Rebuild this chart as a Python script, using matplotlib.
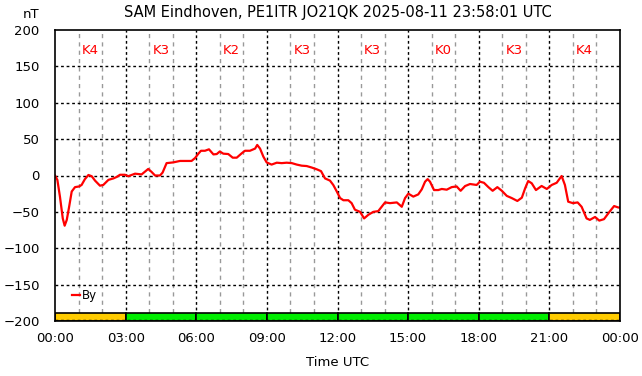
import numpy as np
import matplotlib
matplotlib.use('Agg')
import matplotlib.pyplot as plt
from matplotlib.ticker import FuncFormatter, MultipleLocator

# By trace, hours since 00:00 UTC and nT
hours = [0.0, 0.1, 0.21, 0.33, 0.41, 0.5, 0.6, 0.71, 0.85, 1.03, 1.13, 1.27, 1.42, 1.56, 1.7,
         1.91, 2.05, 2.27, 2.48, 2.62, 2.76, 2.97, 3.11, 3.4, 3.68, 3.96, 4.1, 4.25, 4.46,
         4.57, 4.74, 5.02, 5.31, 5.59, 5.8, 5.95, 6.09, 6.2, 6.37, 6.54, 6.73, 6.87, 7.0,
         7.15, 7.36, 7.55, 7.72, 7.93, 8.07, 8.28, 8.5, 8.59, 8.71, 8.85, 8.99, 9.2, 9.42,
         9.63, 9.84, 10.06, 10.27, 10.48, 10.69, 10.9, 11.12, 11.3, 11.47, 11.68, 11.82,
         11.97, 12.11, 12.25, 12.46, 12.6, 12.74, 12.96, 13.13, 13.31, 13.52, 13.73, 14.02,
         14.23, 14.52, 14.73, 14.87, 15.01, 15.22, 15.43, 15.58, 15.72, 15.83, 15.93, 16.1,
         16.28, 16.43, 16.64, 16.85, 17.06, 17.23, 17.42, 17.63, 17.91, 18.05, 18.22, 18.41,
         18.59, 18.79, 18.98, 19.19, 19.4, 19.64, 19.83, 19.97, 20.1, 20.25, 20.43, 20.67,
         20.89, 21.1, 21.31, 21.52, 21.66, 21.8, 22.0, 22.2, 22.37, 22.58, 22.72, 22.94,
         23.12, 23.32, 23.55, 23.75, 23.93, 24.0]
by_nt = [0, -6, -29, -59, -69, -61, -43, -22, -16, -15, -13, -5, 0.7, -1, -7,
         -14, -13, -6, -4, -2, 1, 1, -1, 2.5, 1.5, 9, 5, 0, 0,
         4, 17, 18, 20, 20, 20, 24, 30, 34, 34, 36, 29, 29.5, 33,
         30, 29.5, 24.5, 24.5, 30.5, 34, 34, 37, 42, 37, 26, 18, 15, 17.6,
         17, 17.6, 17, 15, 13.5, 13, 11, 8.5, 6, -4, -7, -13,
         -22, -31, -34, -34, -38, -47, -50, -59, -54, -50, -49, -37,
         -38, -37, -43, -31, -25, -29, -26, -19, -8.5, -5, -8.5, -20,
         -20, -18.5, -19.5, -16, -15, -21, -14.5, -11.7, -13, -8.5, -10, -16,
         -21, -16, -21, -28, -31, -35, -30.5, -17.6, -7.6, -10.7, -20, -14.4,
         -18.5, -13, -10, -0.7, -13, -36, -38, -37, -43, -59, -61, -57,
         -62, -60, -50, -42, -44, -44]

# K index per 3 hour block
k_start = [0, 3, 6, 9, 12, 15, 18, 21]
k_index = [4, 3, 2, 3, 3, 0, 3, 4]

fig = plt.figure(figsize=(6.42, 3.76), dpi=100)
ax = fig.add_axes([55/642, 1-321/376, 565/642, 291/376])

ax.set_xlim(0, 24)
ax.set_ylim(-200, 200)

# grid
for h in range(1, 24):
    if h % 3 == 0:
        ax.axvline(h, color='black', lw=1, ls=(0, (2, 2)), zorder=1)
    else:
        ax.axvline(h, color='#999999', lw=1, ls=(0, (3, 3)), zorder=1)
for v in range(-150, 200, 50):
    ax.axhline(v, color='black', lw=1, ls=(0, (2, 2)), zorder=1)

# K index bar and labels
for s, k in zip(k_start, k_index):
    c = '#ffcc00' if k >= 4 else '#00ee00'
    ax.bar(s, 11, bottom=-200, width=3, align='edge', color=c,
           edgecolor='black', linewidth=1.2, zorder=2)
    ax.text(s + 1.5, 172, 'K%d' % k, color='red', ha='center', va='center', fontsize=9.5)
ax.axhline(-199, color='black', lw=1, ls=(0, (2, 2)), zorder=3)

ax.plot(hours, by_nt, color='red', lw=1.6, label='By', zorder=4)

leg = ax.legend(loc='lower left', bbox_to_anchor=(0.02, 0.045), frameon=False,
                handlelength=0.7, handletextpad=0.1, fontsize=8.5, borderpad=0)

ax.xaxis.set_major_locator(MultipleLocator(3))
ax.xaxis.set_major_formatter(FuncFormatter(lambda x, p: '%02d:00' % (int(x) % 24)))
ax.yaxis.set_major_locator(MultipleLocator(50))
ax.tick_params(length=0, labelsize=9.5, pad=8)
ax.tick_params(axis='y', pad=11)
for sp in ax.spines.values():
    sp.set_linewidth(1.2)
    sp.set_zorder(5)

ax.set_xlabel('Time UTC', fontsize=9.5, labelpad=8)
fig.text(337.5/642, 1-13/376, 'SAM Eindhoven, PE1ITR JO21QK 2025-08-11 23:58:01 UTC',
         ha='center', va='center', fontsize=10.5)
fig.text(31/642, 1-15/376, 'nT', ha='center', va='center', fontsize=9.5)

fig.savefig('out.png', dpi=100)
